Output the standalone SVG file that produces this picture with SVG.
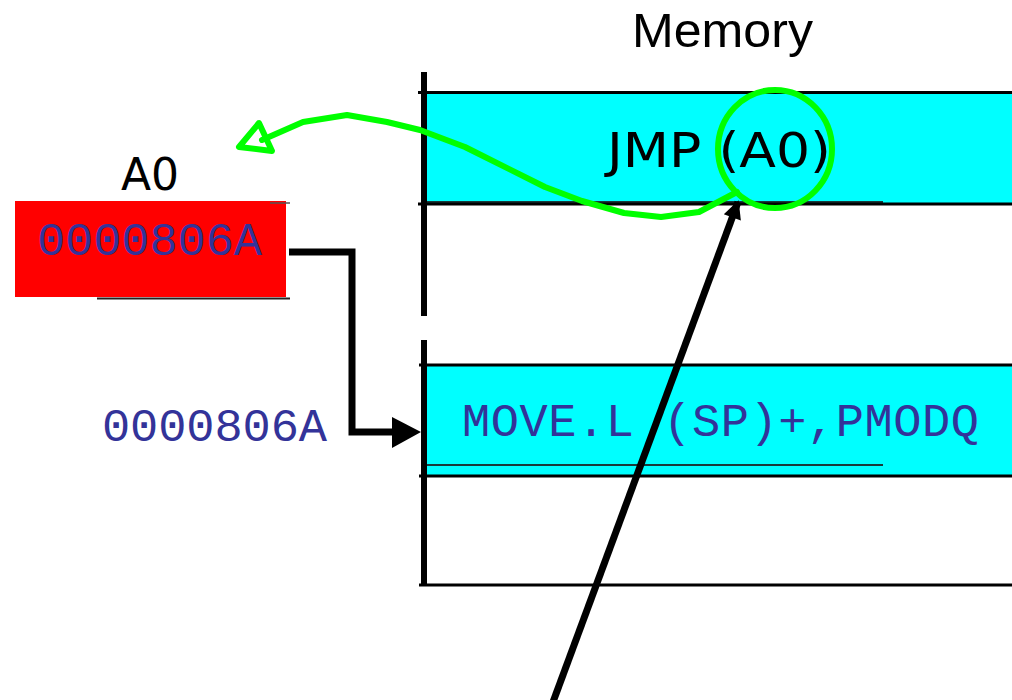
<svg xmlns="http://www.w3.org/2000/svg" width="1012" height="700" viewBox="0 0 1012 700">
  <style>
    .mono { font-family: "Liberation Mono", "Courier New", monospace; font-size: 47px; fill: #333399; }
    .sans { font-family: "DejaVu Sans", "Liberation Sans", sans-serif; fill: #000; }
    .title { font-family: "Liberation Sans", Arial, sans-serif; fill: #000; }
    .rule { stroke: #000; stroke-width: 3; fill: none; }
    .bar { stroke: #000; stroke-width: 6; fill: none; }
    .thin { stroke: #1a3a3a; stroke-width: 2; fill: none; }
    .green { stroke: #00ff00; stroke-width: 6; fill: none; stroke-linejoin: round; stroke-linecap: round; }
    .black { stroke: #000; stroke-width: 7; fill: none; }
  </style>
  <defs>
    <marker id="tip" viewBox="0 0 10 10" refX="9" refY="5" markerWidth="4.5" markerHeight="2.6" orient="auto" markerUnits="strokeWidth">
      <path d="M0 0 L10 5 L0 10 Z" fill="#000"/>
    </marker>
  </defs>

  <rect width="1012" height="700" fill="#fff"/>

  <!-- memory column -->
  <g id="memory">
    <text class="title" x="632" y="47" font-size="49" textLength="181" lengthAdjust="spacingAndGlyphs">Memory</text>
    <line class="bar" x1="424" y1="72" x2="424" y2="316"/>
    <line class="bar" x1="424" y1="340" x2="424" y2="586"/>
  </g>

  <g id="cell-jmp">
    <rect x="427" y="93" width="585" height="111" fill="#00ffff"/>
    <line class="rule" x1="418" y1="92.5" x2="1012" y2="92.5"/>
    <line class="thin" x1="427" y1="202" x2="883" y2="202"/>
    <line class="rule" x1="418" y1="204" x2="1012" y2="204"/>
    <text class="sans" x="607" y="167" font-size="48" textLength="224" lengthAdjust="spacingAndGlyphs">JMP (A0)</text>
  </g>

  <g id="cell-move">
    <rect x="427" y="365" width="585" height="111" fill="#00ffff"/>
    <line class="rule" x1="419" y1="365" x2="1012" y2="365"/>
    <line class="thin" x1="427" y1="465" x2="883" y2="465"/>
    <line class="rule" x1="419" y1="476" x2="1012" y2="476"/>
    <text class="mono" x="462" y="436" textLength="517" lengthAdjust="spacing">MOVE.L (SP)+,PMODQ</text>
  </g>

  <g id="cell-empty">
    <line class="rule" x1="419" y1="585" x2="1012" y2="585"/>
  </g>

  <!-- address register -->
  <g id="reg-a0">
    <text class="sans" x="150" y="190" font-size="44" text-anchor="middle">A0</text>
    <rect x="15" y="201" width="271" height="96" fill="#ff0000"/>
    <line x1="270" y1="203" x2="290" y2="203" stroke="#555" stroke-width="1.5"/>
    <line x1="97" y1="298.5" x2="290" y2="298.5" stroke="#222" stroke-width="2"/>
    <text class="mono" x="37" y="255" textLength="225" lengthAdjust="spacing">0000806A</text>
  </g>

  <g id="addr-label">
    <text class="mono" x="102" y="441" textLength="225" lengthAdjust="spacing">0000806A</text>
  </g>

  <!-- connectors -->
  <g id="connectors">
    <polyline class="black" points="289,252 352,252 352,432 394,432" stroke-linejoin="miter"/>
    <polygon points="392,417 421,432 392,448" fill="#000"/>

    <path class="green" d="M737 192 L699 212 L661 217 L624 213 L582 201 L545 187 L465 147 L420 130 L387 122 L347 115 L303 122 L262 140"/>
    <polygon class="green" points="259,123 239,147 272,151"/>
    <ellipse class="green" cx="775" cy="149" rx="57" ry="59"/>

    <line class="black" x1="553" y1="702" x2="738" y2="202" marker-end="url(#tip)"/>
  </g>
</svg>
